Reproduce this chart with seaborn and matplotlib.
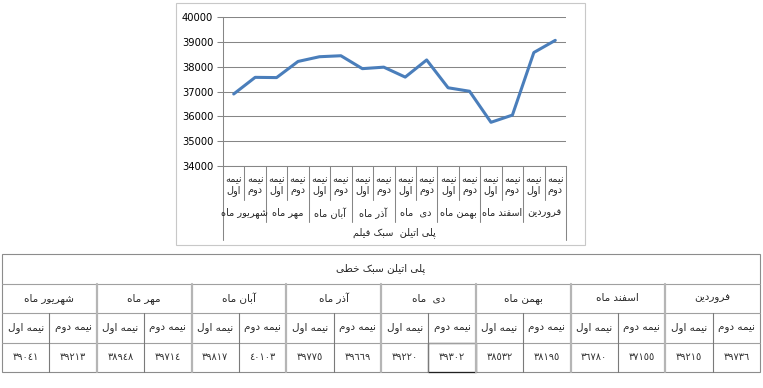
import matplotlib
matplotlib.use('Agg')
import matplotlib.pyplot as plt
import matplotlib.transforms as mtransforms
from matplotlib.patches import Rectangle
import pandas as pd
import seaborn as sns

# data (chart line and the table under it)
months = ['شهریور ماه', 'مهر ماه', 'آبان ماه', 'آذر ماه', 'دی  ماه', 'بهمن ماه', 'اسفند ماه', 'فروردین']
halves = ['نیمه اول', 'نیمه دوم']
series_name = 'پلی اتیلن  سبک فیلم'
table_title = 'پلی اتیلن سبک خطی'
chart_values = [36900, 37570, 37560, 38210, 38400, 38440, 37920, 37980,
                37580, 38270, 37150, 37010, 35760, 36050, 38570, 39060]
table_first = [39041, 38948, 39817, 39775, 39220, 38532, 36780, 39215]
table_second = [39213, 39714, 40103, 39669, 39302, 38195, 37155, 39736]
y_ticks = [34000, 35000, 36000, 37000, 38000, 39000, 40000]

# no bidi / shaping in matplotlib, so pick the presentation forms by hand
FORMS = {
    'ا': (0xFE8D, 0xFE8E), 'آ': (0xFE81, 0xFE82), 'د': (0xFEA9, 0xFEAA),
    'ذ': (0xFEAB, 0xFEAC), 'ر': (0xFEAD, 0xFEAE), 'و': (0xFEED, 0xFEEE),
    'ب': (0xFE8F, 0xFE90, 0xFE91, 0xFE92), 'پ': (0xFB56, 0xFB57, 0xFB58, 0xFB59),
    'ت': (0xFE95, 0xFE96, 0xFE97, 0xFE98), 'خ': (0xFEA5, 0xFEA6, 0xFEA7, 0xFEA8),
    'س': (0xFEB1, 0xFEB2, 0xFEB3, 0xFEB4), 'ش': (0xFEB5, 0xFEB6, 0xFEB7, 0xFEB8),
    'ط': (0xFEC1, 0xFEC2, 0xFEC3, 0xFEC4), 'ف': (0xFED1, 0xFED2, 0xFED3, 0xFED4),
    'ک': (0xFB8E, 0xFB8F, 0xFB90, 0xFB91), 'ل': (0xFEDD, 0xFEDE, 0xFEDF, 0xFEE0),
    'م': (0xFEE1, 0xFEE2, 0xFEE3, 0xFEE4), 'ن': (0xFEE5, 0xFEE6, 0xFEE7, 0xFEE8),
    'ه': (0xFEE9, 0xFEEA, 0xFEEB, 0xFEEC), 'ی': (0xFBFC, 0xFBFD, 0xFBFE, 0xFBFF),
}


def shape(text):
    out = []
    for i, ch in enumerate(text):
        f = FORMS.get(ch)
        if f is None:
            out.append(ch)
            continue
        prev = text[i - 1] if i > 0 else ''
        nxt = text[i + 1] if i + 1 < len(text) else ''
        join_prev = len(FORMS.get(prev, ())) == 4
        join_next = len(f) == 4 and nxt in FORMS
        if join_prev and join_next:
            c = f[3]
        elif join_prev:
            c = f[1]
        elif join_next:
            c = f[2]
        else:
            c = f[0]
        out.append(chr(c))
    return ''.join(reversed(out))


def fa_num(n):
    return str(n).translate(str.maketrans('0123456789', '٠١٢٣٤٥٦٧٨٩'))


W, H = 763, 388
sns.set_style('white')
plt.rcParams['font.family'] = ['DejaVu Sans']

df = pd.DataFrame({'slot': range(len(chart_values)), 'value': chart_values})

fig = plt.figure(figsize=(W / 100, H / 100), dpi=100)
ov = fig.add_axes([0, 0, 1, 1])
ov.set_xlim(0, W)
ov.set_ylim(H, 0)
ov.axis('off')
ov.add_patch(Rectangle((176, 3), 409, 242, fill=False, ec='#C8C8C8', lw=0.8))

# chart
ax = fig.add_axes([223 / W, 1 - 166 / H, 343 / W, 149 / H])
sns.lineplot(data=df, x='slot', y='value', ax=ax, color='#4A7EBB', lw=2.2)
ax.set_xlim(-0.5, 15.5)
ax.set_ylim(y_ticks[0], y_ticks[-1])
ax.set_yticks(y_ticks)
ax.set_xticks([])
ax.set_xlabel('')
ax.set_ylabel('')
ax.yaxis.grid(True, color='#868686', lw=0.75)
ax.patch.set_alpha(0)
for s in ['top', 'right']:
    ax.spines[s].set_visible(False)
for s in ['left', 'bottom']:
    ax.spines[s].set_color('#868686')
    ax.spines[s].set_linewidth(0.75)
ax.tick_params(axis='y', left=True, length=4, width=0.75, color='#868686',
               labelsize=7.2, pad=3, labelcolor='black')

# multi-level category axis under the chart
bt = mtransforms.blended_transform_factory(ax.transData, ov.transData)
n = len(chart_values)
for k in range(n + 1):
    if k in (0, n):
        y_end = 240
    elif k % 2 == 0:
        y_end = 222
    else:
        y_end = 200
    ov.plot([k - 0.5, k - 0.5], [166, y_end], transform=bt, color='#868686',
            lw=0.75, clip_on=False)
for i in range(n):
    w1, w2 = halves[i % 2].split()
    ov.text(i, 185, shape(w1) + '\n' + shape(w2), transform=bt, ha='center',
            va='center', fontsize=7, linespacing=1.2, multialignment='center')
for m, name in enumerate(months):
    ov.text(2 * m + 0.5, 213, shape(name), transform=bt, ha='center', va='center',
            fontsize=7)
ov.text((n - 1) / 2, 233, shape(series_name), transform=bt, ha='center',
        va='center', fontsize=7)

# table
x0, x1 = 2, 760
cw = (x1 - x0) / 16
rows = [254, 283.5, 313, 342.5, 372]
ov.add_patch(Rectangle((x0, rows[0]), x1 - x0, rows[-1] - rows[0], fill=False,
                       ec='#8C8C8C', lw=0.8))
for y in rows[1:-1]:
    ov.plot([x0, x1], [y, y], color='#A0A0A0', lw=0.8)
for m in range(1, 8):
    x = x0 + 2 * m * cw
    ov.plot([x, x], [rows[1], rows[-1]], color='#B5B5B5', lw=1.6)
for m in range(8):
    x = x0 + (2 * m + 1) * cw
    ov.plot([x, x], [rows[2], rows[-1]], color='#7A7A7A', lw=0.8)
ov.add_patch(Rectangle((x0 + 9 * cw, rows[3]), cw, rows[4] - rows[3], fill=False,
                       ec='#202020', lw=0.9))

ov.text((x0 + x1) / 2, (rows[0] + rows[1]) / 2, shape(table_title), ha='center',
        va='center', fontsize=7.5)
for m, name in enumerate(months):
    xc = x0 + (2 * m + 1) * cw
    ov.text(xc, (rows[1] + rows[2]) / 2, shape(name), ha='center', va='center',
            fontsize=7.5)
    for j, vals in enumerate([table_first, table_second]):
        xm = x0 + (2 * m + j + 0.5) * cw
        ov.text(xm, (rows[2] + rows[3]) / 2, shape(halves[j]), ha='center',
                va='center', fontsize=7.5)
        ov.text(xm, (rows[3] + rows[4]) / 2, fa_num(vals[m]), ha='center',
                va='center', fontsize=7, color='#333333')

fig.savefig('out.png', dpi=100, facecolor='white')
